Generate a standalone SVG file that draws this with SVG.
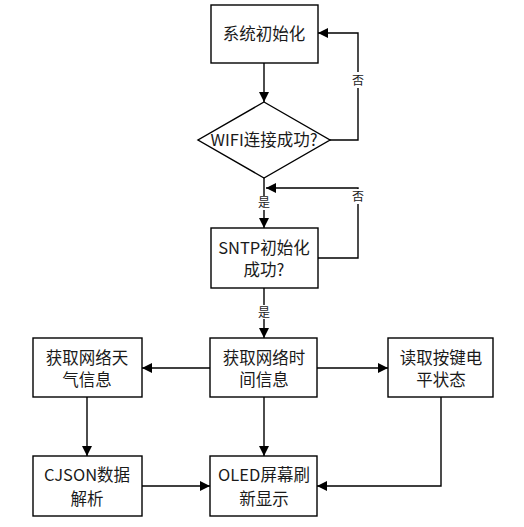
<svg xmlns="http://www.w3.org/2000/svg" width="524" height="527" viewBox="0 0 524 527">
<style>
.n{fill:#fff;stroke:#000;stroke-width:1.4}
.t{font-family:"Noto Sans CJK SC","Noto Sans",sans-serif;font-size:16.5px;fill:#1a1a1a;text-anchor:middle}
.l{font-family:"Noto Sans CJK SC",sans-serif;font-size:12px;fill:#1a1a1a;text-anchor:middle}
.c{fill:none;stroke:#000;stroke-width:1.4}
</style>
<defs>
<marker id="a" viewBox="0 0 10 10" refX="10" refY="5" markerWidth="10" markerHeight="10" markerUnits="userSpaceOnUse" orient="auto">
<path d="M0,0L10,5L0,10z" fill="#000"/>
</marker>
</defs>
<g id="connectors">
<path class="c" d="M264,63V102" marker-end="url(#a)"/>
<path class="c" d="M330,140H358V33H318" marker-end="url(#a)"/>
<path class="c" d="M264,178V228" marker-end="url(#a)"/>
<path class="c" d="M318,258H358V188H266" marker-end="url(#a)"/>
<path class="c" d="M264,288V338" marker-end="url(#a)"/>
<path class="c" d="M210,368H142" marker-end="url(#a)"/>
<path class="c" d="M317,368H388" marker-end="url(#a)"/>
<path class="c" d="M87,397V456" marker-end="url(#a)"/>
<path class="c" d="M264,397V456" marker-end="url(#a)"/>
<path class="c" d="M441,397V486H317" marker-end="url(#a)"/>
<path class="c" d="M142,486H210" marker-end="url(#a)"/>
<rect x="351" y="72" width="14" height="16" fill="#fff"/>
<text class="l" x="358" y="85">否</text>
<rect x="351" y="189" width="14" height="15" fill="#fff"/>
<text class="l" x="358" y="201">否</text>
<rect x="257" y="196" width="14" height="14" fill="#fff"/>
<text class="l" x="264" y="207">是</text>
<rect x="257" y="305" width="14" height="14" fill="#fff"/>
<text class="l" x="264" y="317">是</text>
</g>
<g id="init">
<rect class="n" x="211" y="5" width="107" height="58"/>
<text class="t" x="264" y="40">系统初始化</text>
</g>
<g id="wifi">
<path class="n" d="M264,102L330,140L264,178L198,140z"/>
<text class="t" x="264" y="146">WIFI连接成功?</text>
</g>
<g id="sntp">
<rect class="n" x="211" y="228" width="107" height="60"/>
<text class="t" x="264" y="254">SNTP初始化</text>
<text class="t" x="264" y="276">成功?</text>
</g>
<g id="weather">
<rect class="n" x="33" y="338" width="109" height="59"/>
<text class="t" x="87" y="364">获取网络天</text>
<text class="t" x="87" y="386">气信息</text>
</g>
<g id="time">
<rect class="n" x="210" y="338" width="107" height="59"/>
<text class="t" x="264" y="364">获取网络时</text>
<text class="t" x="264" y="386">间信息</text>
</g>
<g id="key">
<rect class="n" x="388" y="338" width="105" height="59"/>
<text class="t" x="441" y="364">读取按键电</text>
<text class="t" x="441" y="386">平状态</text>
</g>
<g id="cjson">
<rect class="n" x="33" y="456" width="109" height="60"/>
<text class="t" x="87" y="481">CJSON数据</text>
<text class="t" x="87" y="505">解析</text>
</g>
<g id="oled">
<rect class="n" x="210" y="456" width="107" height="60"/>
<text class="t" x="264" y="481">OLED屏幕刷</text>
<text class="t" x="264" y="505">新显示</text>
</g>
</svg>
